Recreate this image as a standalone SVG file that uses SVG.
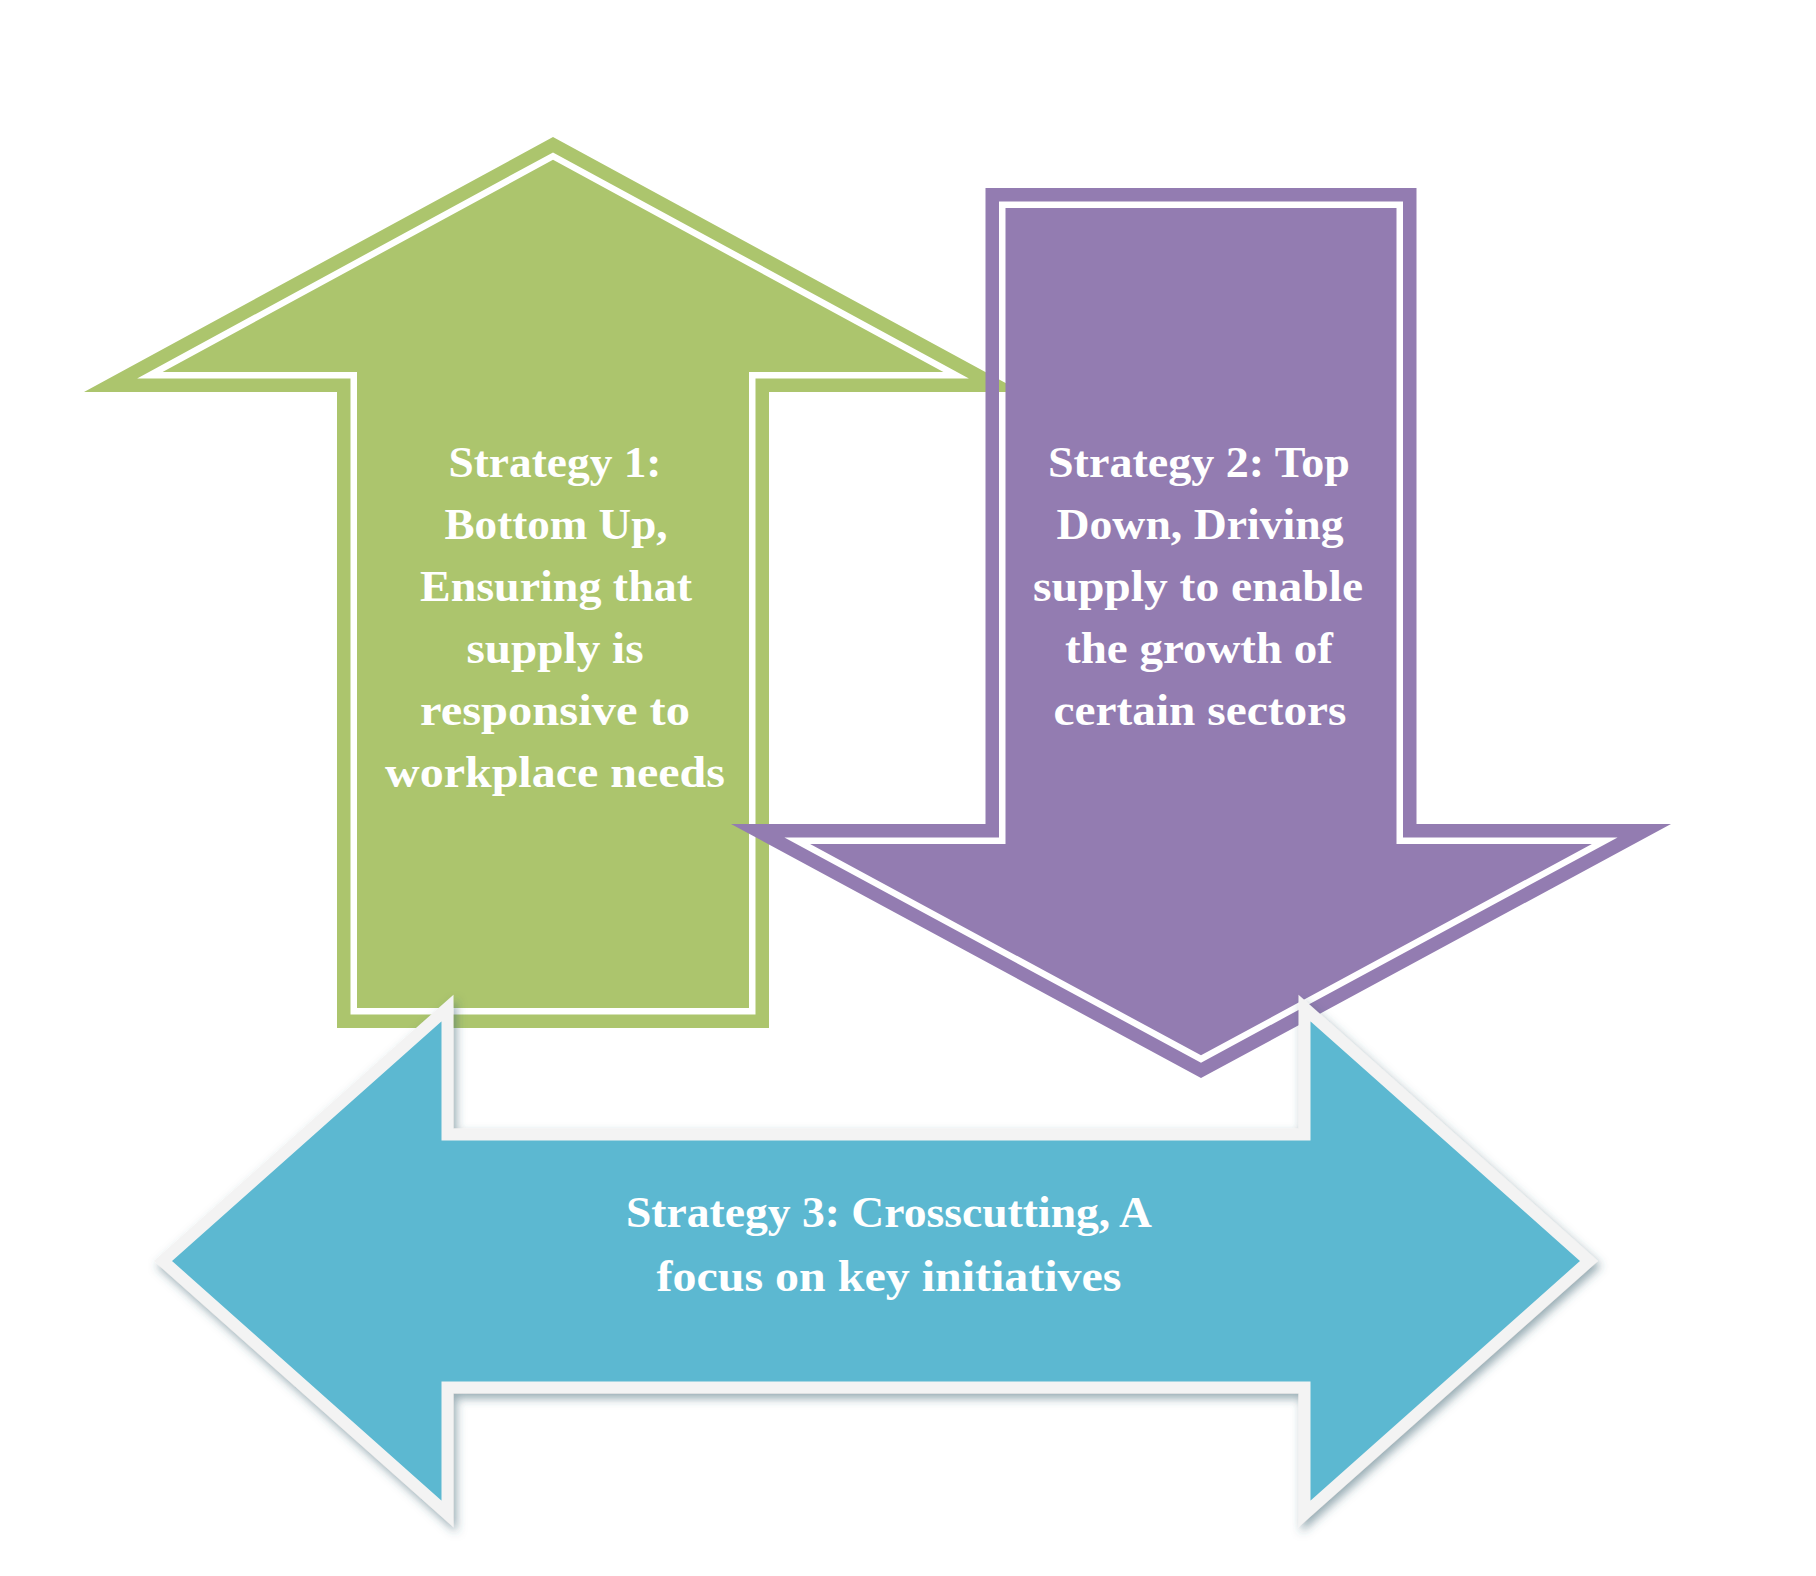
<svg xmlns="http://www.w3.org/2000/svg" width="1816" height="1576" viewBox="0 0 1816 1576">
  <defs>
    <filter id="shadow" x="-10%" y="-10%" width="120%" height="125%">
      <feDropShadow dx="3" dy="5" stdDeviation="5" flood-color="#2f5a68" flood-opacity="0.5"/>
    </filter>
  </defs>
  <style>
    .lbl { font-family: "Liberation Serif", "Times New Roman", serif; font-weight: bold; font-size: 44px; fill: #ffffff; text-anchor: middle; }
    .green { fill: #acc56d; }
    .purple { fill: #937cb1; }
    .blue { fill: #5bb8d1; stroke: #f3f3f3; stroke-width: 12; stroke-linejoin: miter; stroke-miterlimit: 10; }
  </style>
  <rect width="1816" height="1576" fill="#ffffff"/>

  <g id="strategy1">
    <path class="green" fill-rule="evenodd" d="M553,137 L1022,392 L769,392 L769,1028 L337,1028 L337,392 L84,392 Z M553,152.4 L968.9,378.5 L755.5,378.5 L755.5,1014.5 L350.5,1014.5 L350.5,378.5 L137.1,378.5 Z"/>
    <polygon class="green" points="553,159.8 943.4,372 749,372 749,1008 357,1008 357,372 162.6,372"/>
    <text class="lbl" x="555" y="477" textLength="213" lengthAdjust="spacingAndGlyphs">Strategy 1:</text>
    <text class="lbl" x="556" y="539" textLength="223" lengthAdjust="spacingAndGlyphs">Bottom Up,</text>
    <text class="lbl" x="556" y="601" textLength="272" lengthAdjust="spacingAndGlyphs">Ensuring that</text>
    <text class="lbl" x="555" y="663" textLength="177" lengthAdjust="spacingAndGlyphs">supply is</text>
    <text class="lbl" x="555" y="725" textLength="270" lengthAdjust="spacingAndGlyphs">responsive to</text>
    <text class="lbl" x="555" y="787" textLength="340" lengthAdjust="spacingAndGlyphs">workplace needs</text>
  </g>

  <g id="strategy2">
    <path class="purple" fill-rule="evenodd" d="M985.5,188 L1416.5,188 L1416.5,824 L1671,824 L1201,1078 L731,824 L985.5,824 Z M999,201.5 L1403,201.5 L1403,837.5 L1617.6,837.5 L1201,1062.7 L784.4,837.5 L999,837.5 Z"/>
    <polygon class="purple" points="1005.5,208 1396.5,208 1396.5,844 1591.9,844 1201,1055.3 810.1,844 1005.5,844"/>
    <text class="lbl" x="1199" y="477" textLength="302" lengthAdjust="spacingAndGlyphs">Strategy 2: Top</text>
    <text class="lbl" x="1200" y="539" textLength="287" lengthAdjust="spacingAndGlyphs">Down, Driving</text>
    <text class="lbl" x="1198" y="601" textLength="330" lengthAdjust="spacingAndGlyphs">supply to enable</text>
    <text class="lbl" x="1199" y="663" textLength="268" lengthAdjust="spacingAndGlyphs">the growth of</text>
    <text class="lbl" x="1200" y="725" textLength="293" lengthAdjust="spacingAndGlyphs">certain sectors</text>
  </g>

  <g id="strategy3">
    <path class="blue" filter="url(#shadow)" d="M163,1261 L447.5,1008 L447.5,1134.5 L1304.5,1134.5 L1304.5,1008 L1589,1261 L1304.5,1514 L1304.5,1387.5 L447.5,1387.5 L447.5,1514 Z"/>
    <text class="lbl" x="889" y="1227" textLength="526" lengthAdjust="spacingAndGlyphs">Strategy 3: Crosscutting, A</text>
    <text class="lbl" x="889" y="1291" textLength="465" lengthAdjust="spacingAndGlyphs">focus on key initiatives</text>
  </g>

  <g id="connectors"></g>
</svg>
